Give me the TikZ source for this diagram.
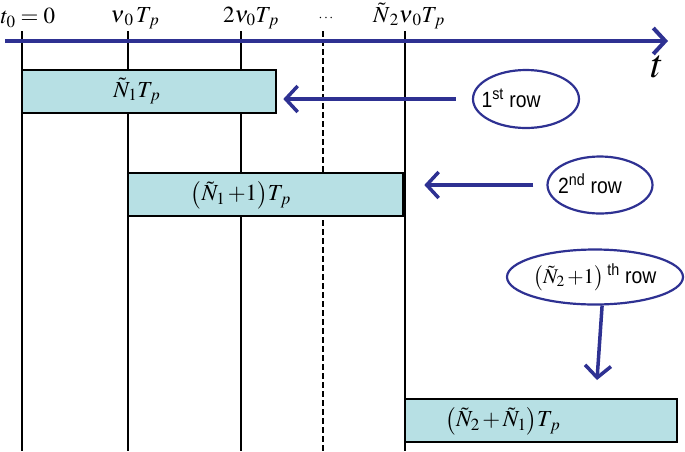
\documentclass[tikz,border=0pt]{standalone}
\usepackage{mathptmx}
\usepackage[no-math]{fontspec}
\newfontfamily\rowfont[FakeStretch=0.88]{Liberation Sans}
\usetikzlibrary{shapes.geometric,arrows.meta}
\definecolor{lineblue}{RGB}{46,49,146}
\definecolor{boxcyan}{RGB}{183,224,228}
\tikzset{
	slot/.style={draw=black, line width=2.6pt, fill=boxcyan, inner sep=0pt},
	rowring/.style={ellipse, draw=lineblue, line width=2.2pt, inner sep=0pt},
	rowtext/.style={inner sep=0.5pt, font=\rowfont\fontsize{22}{26}\selectfont},
	rowarrow/.style={lineblue, line width=3.5pt, -{Straight Barb[length=12pt,width=26pt]}},
	grid/.style={black, line width=2.3pt},
	lab/.style={inner sep=0.5pt, font=\fontsize{23}{27}\selectfont}
}

\begin{document}
\begin{tikzpicture}[x=1pt,y=1pt,yscale=-1]
	\useasboundingbox (0,0) rectangle (685,451);
	%time marks
	\def\ya{31}
	\def\yb{451}
	\draw[grid] (22,\ya) -- (22,\yb);
	\draw[grid] (128,\ya) -- (128,\yb);
	\draw[grid] (241,\ya) -- (241,\yb);
	\draw[grid, dash pattern=on 6pt off 3pt] (323,\ya) -- (323,\yb);
	\draw[grid] (405,\ya) -- (405,\yb);
	% Text Node
	\draw (0,18) node[lab, anchor=west] (t0) {$t_0=0$};
	% Text Node
	\draw (135,18) node[lab] (v1) {$\nu_{\,0}\,T_{\,p}$};
	% Text Node
	\draw (251,18) node[lab] (v2) {$2\nu_0T_{\,p}$};
	% Text Node
	\draw (326,18) node[lab, font=\fontsize{14}{16}\selectfont] (dots) {$\cdots$};
	% Text Node
	\draw (409,16) node[lab] (vn) {$\tilde N_{\,2}\nu_{\,0}T_{\,p}$};
	
	%axis
	\draw[rowarrow, line width=4pt] (5,41) -- (668,41);
	% Text Node
	\draw (657,67) node[lab, font=\fontsize{40}{44}\selectfont] (t) {$t$};
	
	%row 1
	\draw (149,91.5) node[slot, minimum width=254pt, minimum height=43pt] (box1) {};
	% Text Node
	\draw (137,91) node[lab] (n1) {$\tilde N_1T_{\,p}$};
	%Shape: Ellipse
	\draw (526,99) node[rowring, minimum width=106pt, minimum height=58pt] (r1) {};
	% Text Node
	\draw (511,98) node[rowtext] (r1t) {1\textsuperscript{st} row};
	% arrow
	\draw[rowarrow, shorten <=16pt, shorten >=6pt] (r1.west) -- (box1.east |- r1.west);
	
	%row 2
	\draw (265.5,194.5) node[slot, minimum width=275pt, minimum height=43pt] (box2) {};
	% Text Node
	\draw (241,195) node[lab] (n2) {$\bigl(\tilde N_1\,{+}1\bigr)T_{\,p}$};
	%Shape: Ellipse
	\draw (600,185) node[rowring, minimum width=105pt, minimum height=57pt] (r2) {};
	% Text Node
	\draw (590,184) node[rowtext] (r2t) {2\textsuperscript{nd} row};
	% arrow
	\draw[rowarrow, shorten <=13pt, shorten >=20pt] (r2.west) -- (box2.east |- r2.west);
	
	%row N2+1
	\draw (541,420.5) node[slot, minimum width=272pt, minimum height=43pt] (box3) {};
	% Text Node
	\draw (503,421) node[lab] (n3) {$\bigl(\tilde N_2\,{+}\,\tilde N_1\bigr)T_{\,p}$};
	%Shape: Ellipse
	\draw (595,277) node[rowring, minimum width=176pt, minimum height=55pt] (r3) {};
	% Text Node
	\draw (595,277) node[rowtext] (r3t) {{\fontsize{21}{24}\selectfont$\bigl(\tilde N_2\,{+}1\bigr)$}\,\textsuperscript{th} row};
	\coordinate (c3) at (597,380);
	% arrow
	\draw[rowarrow] (r3.-76) -- (c3);
\end{tikzpicture}
\end{document}
